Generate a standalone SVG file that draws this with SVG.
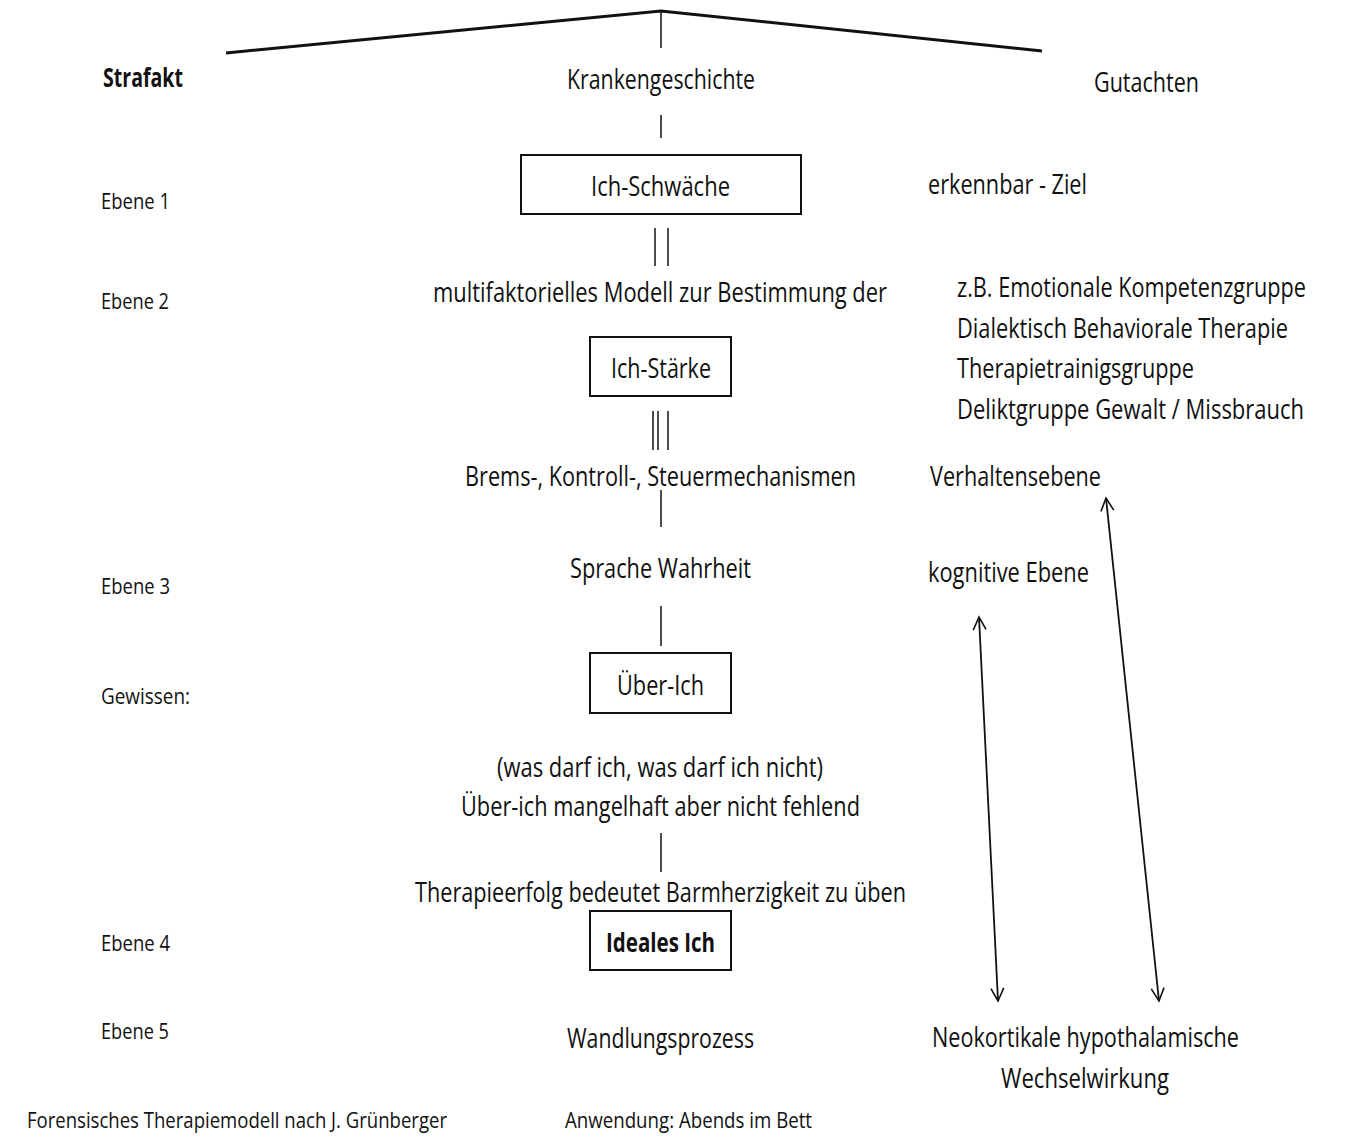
<svg xmlns="http://www.w3.org/2000/svg" width="1351" height="1146" viewBox="0 0 1351 1146">
<defs>
<style>
text{font-family:"Open Sans","Liberation Sans",sans-serif;fill:#111;}
.m{font-size:27px;}
.s{font-size:21px;}
.b{font-weight:bold;}
.box{fill:#fff;stroke:#111;stroke-width:2;}
.ln{stroke:#111;stroke-width:1.5;fill:none;}
.roof{stroke:#111;stroke-width:3;fill:none;}
.arr{stroke:#111;stroke-width:1.8;fill:none;marker-start:url(#ah);marker-end:url(#ah);}
</style>
<marker id="ah" viewBox="0 0 20 20" refX="18" refY="10" markerWidth="16" markerHeight="16" markerUnits="userSpaceOnUse" orient="auto-start-reverse">
<path d="M2,2 L18,10 L2,18" fill="none" stroke="#111" stroke-width="2"/>
</marker>
</defs>
<rect width="1351" height="1146" fill="#fff"/>

<g id="connectors">
<polyline class="roof" points="226,53 661,11 1042,51"/>
<line class="ln" x1="661" y1="11" x2="661" y2="48"/>
<line class="ln" x1="661" y1="115" x2="661" y2="138"/>
<line class="ln" x1="655" y1="228" x2="655" y2="266"/>
<line class="ln" x1="668" y1="228" x2="668" y2="266"/>
<line class="ln" x1="653" y1="411" x2="653" y2="450"/>
<line class="ln" x1="658" y1="411" x2="658" y2="450"/>
<line class="ln" x1="668" y1="411" x2="668" y2="450"/>
<line class="ln" x1="661" y1="490" x2="661" y2="527"/>
<line class="ln" x1="661" y1="606" x2="661" y2="646"/>
<line class="ln" x1="661" y1="833" x2="661" y2="872"/>
<line class="arr" x1="979" y1="617" x2="998" y2="1001"/>
<line class="arr" x1="1106" y1="498" x2="1159" y2="1001"/>
</g>

<g id="left-labels">
<text class="m b" x="103" y="87" textLength="80" lengthAdjust="spacingAndGlyphs">Strafakt</text>
<text class="s" x="101" y="209" textLength="69" lengthAdjust="spacingAndGlyphs">Ebene 1</text>
<text class="s" x="101" y="309" textLength="68" lengthAdjust="spacingAndGlyphs">Ebene 2</text>
<text class="s" x="101" y="594" textLength="69" lengthAdjust="spacingAndGlyphs">Ebene 3</text>
<text class="s" x="101" y="704" textLength="89" lengthAdjust="spacingAndGlyphs">Gewissen:</text>
<text class="s" x="101" y="951" textLength="69" lengthAdjust="spacingAndGlyphs">Ebene 4</text>
<text class="s" x="101" y="1039" textLength="68" lengthAdjust="spacingAndGlyphs">Ebene 5</text>
<text class="s" x="27" y="1128" textLength="420" lengthAdjust="spacingAndGlyphs">Forensisches Therapiemodell nach J. Grünberger</text>
</g>

<g id="krankengeschichte">
<text class="m" x="567" y="89" textLength="188" lengthAdjust="spacingAndGlyphs">Krankengeschichte</text>
</g>
<g id="ich-schwaeche">
<rect class="box" x="521" y="155" width="280" height="59"/>
<text class="m" x="591" y="196" textLength="139" lengthAdjust="spacingAndGlyphs">Ich-Schwäche</text>
</g>
<g id="modell">
<text class="m" x="433" y="302" textLength="454" lengthAdjust="spacingAndGlyphs">multifaktorielles Modell zur Bestimmung der</text>
</g>
<g id="ich-staerke">
<rect class="box" x="590" y="337" width="141" height="59"/>
<text class="m" x="611" y="378" textLength="100" lengthAdjust="spacingAndGlyphs">Ich-Stärke</text>
</g>
<g id="brems">
<text class="m" x="465" y="486" textLength="391" lengthAdjust="spacingAndGlyphs">Brems-, Kontroll-, Steuermechanismen</text>
</g>
<g id="sprache">
<text class="m" x="570" y="578" textLength="181" lengthAdjust="spacingAndGlyphs">Sprache Wahrheit</text>
</g>
<g id="ueber-ich">
<rect class="box" x="590" y="653" width="141" height="60"/>
<text class="m" x="617" y="695" textLength="87" lengthAdjust="spacingAndGlyphs">Über-Ich</text>
</g>
<g id="ueber-ich-text">
<text class="m" x="497" y="777" textLength="326" lengthAdjust="spacingAndGlyphs">(was darf ich, was darf ich nicht)</text>
<text class="m" x="461" y="816" textLength="399" lengthAdjust="spacingAndGlyphs">Über-ich mangelhaft aber nicht fehlend</text>
</g>
<g id="therapieerfolg">
<text class="m" x="415" y="902" textLength="491" lengthAdjust="spacingAndGlyphs">Therapieerfolg bedeutet Barmherzigkeit zu üben</text>
</g>
<g id="ideales-ich">
<rect class="box" x="590" y="911" width="141" height="59"/>
<text class="m b" x="606" y="952" textLength="109" lengthAdjust="spacingAndGlyphs">Ideales Ich</text>
</g>
<g id="wandlungsprozess">
<text class="m" x="567" y="1048" textLength="187" lengthAdjust="spacingAndGlyphs">Wandlungsprozess</text>
</g>
<g id="anwendung">
<text class="s" x="565" y="1128" textLength="247" lengthAdjust="spacingAndGlyphs">Anwendung: Abends im Bett</text>
</g>

<g id="right-column">
<text class="m" x="1094" y="92" textLength="105" lengthAdjust="spacingAndGlyphs">Gutachten</text>
<text class="m" x="928" y="194" textLength="159" lengthAdjust="spacingAndGlyphs">erkennbar - Ziel</text>
<text class="m" x="957" y="297" textLength="349" lengthAdjust="spacingAndGlyphs">z.B. Emotionale Kompetenzgruppe</text>
<text class="m" x="957" y="338" textLength="331" lengthAdjust="spacingAndGlyphs">Dialektisch Behaviorale Therapie</text>
<text class="m" x="957" y="378" textLength="237" lengthAdjust="spacingAndGlyphs">Therapietrainigsgruppe</text>
<text class="m" x="957" y="419" textLength="347" lengthAdjust="spacingAndGlyphs">Deliktgruppe Gewalt / Missbrauch</text>
<text class="m" x="930" y="486" textLength="171" lengthAdjust="spacingAndGlyphs">Verhaltensebene</text>
<text class="m" x="928" y="582" textLength="161" lengthAdjust="spacingAndGlyphs">kognitive Ebene</text>
<text class="m" x="932" y="1047" textLength="307" lengthAdjust="spacingAndGlyphs">Neokortikale hypothalamische</text>
<text class="m" x="1001" y="1088" textLength="168" lengthAdjust="spacingAndGlyphs">Wechselwirkung</text>
</g>
</svg>
